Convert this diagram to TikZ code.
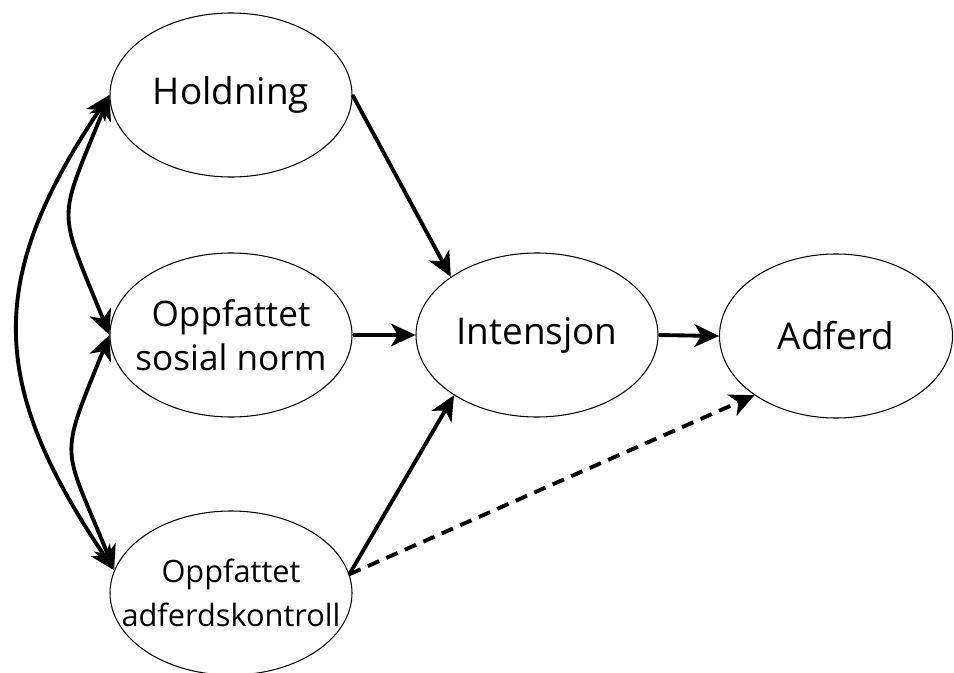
\documentclass[tikz,border=0pt]{standalone}
\usepackage{fontspec}
\setmainfont{Open Sans}
\usepackage{tikz}
\usetikzlibrary{shapes.geometric,arrows.meta,positioning}

\begin{document}
\begin{tikzpicture}
  \newcommand{\ellh}{3.28cm}
  \useasboundingbox (0,0) rectangle (19.08,13.44);
  \coordinate (pH) at (4.62,11.54);
  \coordinate (pS) at (4.62,6.74);
  \coordinate (pK) at (4.62,1.58);
  \coordinate (pI) at (10.74,6.74);
  \coordinate (pA) at (16.72,6.72);
  \tikzstyle{ellnode}=[ellipse, draw, line width=0.6pt, inner sep=0pt, minimum height=\ellh];
  \tikzstyle{every label}=[align=center];
  \tikzstyle{arr}=[line width=2.2pt, -{Stealth[length=14pt,width=13pt,inset=4pt]}];
  \tikzstyle{twoway}=[line width=2.2pt, {Stealth[length=14pt,width=13pt,inset=4pt]}-{Stealth[length=14pt,width=13pt,inset=4pt]}];
  \foreach \x/\w/\f/\t in {H/4.84/21/Holdning,S/4.84/20/{Oppfattet\\sosial norm},K/4.84/17.5/{Oppfattet\\adferdskontroll},I/4.84/21/Intensjon,A/4.66/21/Adferd}{
    \node[ellnode, minimum width=\w cm, label={[font=\fontsize{\f}{25}\selectfont]center:\t}] (n\x) at (p\x) {};
  }
  % correlations on the left
  \draw[twoway] (nH.west) to[out=236, in=124, looseness=1.2] (nK.169);
  \draw[twoway] (nH.west) to[out=248, in=112, looseness=1.5] (nS.west);
  \draw[twoway] (nS.west) to[out=248, in=112, looseness=1.5] (nK.169);
  % paths
  \draw[arr] (nH.east) -- (nI.146);
  \draw[arr] (nS.east) -- (nI.west);
  \draw[arr] (nK.9) -- (nI.216);
  \draw[arr] (nI.east) -- (nA.west);
  \draw[arr, dash pattern=on 7pt off 4.5pt] (nK.9) -- (nA.216);
\end{tikzpicture}
\end{document}
